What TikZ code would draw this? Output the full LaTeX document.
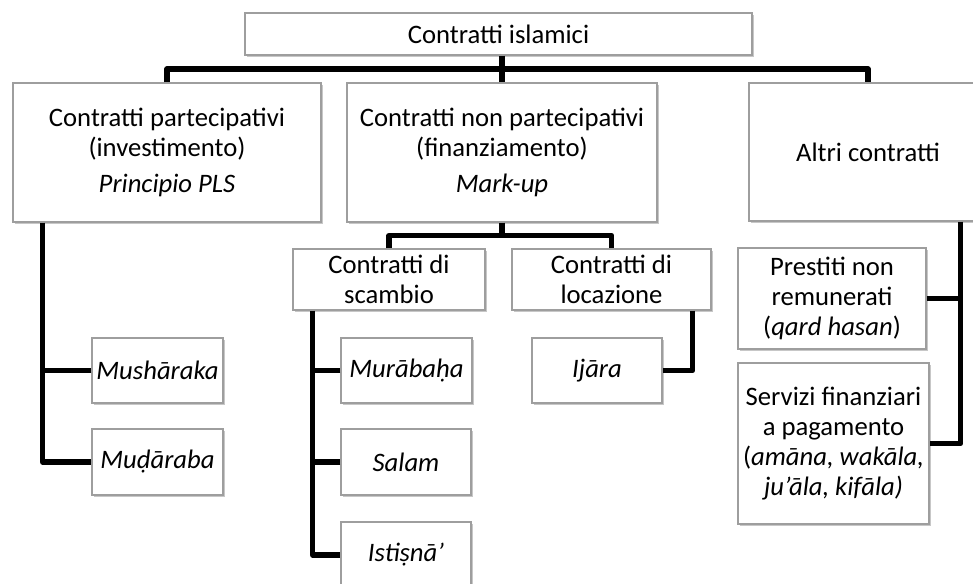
\documentclass[tikz,border=0pt]{standalone}
\usepackage{fontspec}
\setmainfont{Carlito}
\usetikzlibrary{calc,shadows}

\tikzset{
  % riquadri con bordo grigio e ombra leggera
  box/.style={draw=black!38, line width=0.8pt, fill=white, inner sep=2pt, align=center,
    font=\fontsize{20}{22.5}\selectfont,
    drop shadow={shadow xshift=1.2pt, shadow yshift=-1.6pt, opacity=0.22, fill=black}},
  wh/.style 2 args={minimum width=#1*0.75pt, minimum height=#2*0.75pt},
  % collegamenti neri spessi
  conn/.style={line width=4pt, line join=round}
}

\begin{document}
\begin{tikzpicture}[x=0.75pt, y=-0.75pt]
  \useasboundingbox (0,0) rectangle (973,584);
  \clip (0,0) rectangle (973,584);

  % Livello superiore
  \node[box, wh={507}{42}] (islamici) at (498.5,34) {Contratti islamici};

  % Primo livello
  \node[box, wh={308}{139}] (partecip) at (167,152.5)
    {Contratti partecipativi\\(investimento)\\[5pt]\textit{Principio PLS}};
  \node[box, wh={310}{139}] (nonpart) at (502,152.5)
    {Contratti non partecipativi\\(finanziamento)\\[5pt]\textit{Mark-up}};
  \node[box, wh={238}{138}] (altri) at (868,152) {Altri contratti};

  % Contratti partecipativi
  \node[box, wh={131}{65}] (musharaka) at (157.5,370.5) {\textit{Mushāraka}};
  \node[box, wh={131}{66}] (mudaraba) at (157.5,462) {\textit{Muḍāraba}};

  % Contratti non partecipativi
  \node[box, wh={192}{61}] (scambio) at (389,279.5) {Contratti di\\scambio};
  \node[box, wh={199}{61}] (locazione) at (611.5,279.5) {Contratti di\\locazione};
  \node[box, wh={131}{65}] (murabaha) at (406.5,370.5) {\textit{Murābaḥa}};
  \node[box, wh={130}{66}] (salam) at (406,462) {\textit{Salam}};
  \node[box, wh={130}{66}] (istisna) at (406,555) {\textit{Istiṣnā’}};
  \node[box, wh={130}{65}] (ijara) at (597,370.5) {\textit{Ijāra}};

  % Altri contratti
  \node[box, wh={188}{101}] (prestiti) at (832,298.5)
    {Prestiti non\\remunerati\\(\textit{qard hasan})};
  \node[box, wh={191}{161}] (servizi) at (833.5,443.5)
    {Servizi finanziari\\a pagamento\\(\textit{amāna, wakāla,}\\\textit{ju’āla, kifāla)}};

  % Barre di collegamento
  \coordinate (bus) at ($(islamici.south)!0.5!(nonpart.north)$);
  \draw[conn] (partecip.north) |- (bus) -| (altri.north);
  \draw[conn] (nonpart.north |- islamici.south) -- (nonpart.north);

  \coordinate (bus2) at ($(nonpart.south)!0.5!(nonpart.south |- scambio.north)$);
  \draw[conn] (scambio.north) |- (bus2) -| (locazione.north);
  \draw[conn] (nonpart.south) -- (bus2);

  % Dorsali verticali
  \coordinate (lspine) at ($(partecip.south west)+(30,0)$);
  \draw[conn] (lspine) |- (mudaraba.west);
  \draw[conn] (musharaka.west) -- (musharaka.west -| lspine);

  \coordinate (sspine) at ($(scambio.south west)+(20,0)$);
  \draw[conn] (sspine) |- (istisna.west);
  \draw[conn] (murabaha.west) -- (murabaha.west -| sspine);
  \draw[conn] (salam.west) -- (salam.west -| sspine);

  \coordinate (cspine) at ($(locazione.south east)+(-19,0)$);
  \draw[conn] (cspine) |- (ijara.east);

  \coordinate (rspine) at ($(altri.south west)+(212,0)$);
  \draw[conn] (rspine) |- (servizi.east);
  \draw[conn] (prestiti.east) -- (prestiti.east -| rspine);
\end{tikzpicture}
\end{document}
